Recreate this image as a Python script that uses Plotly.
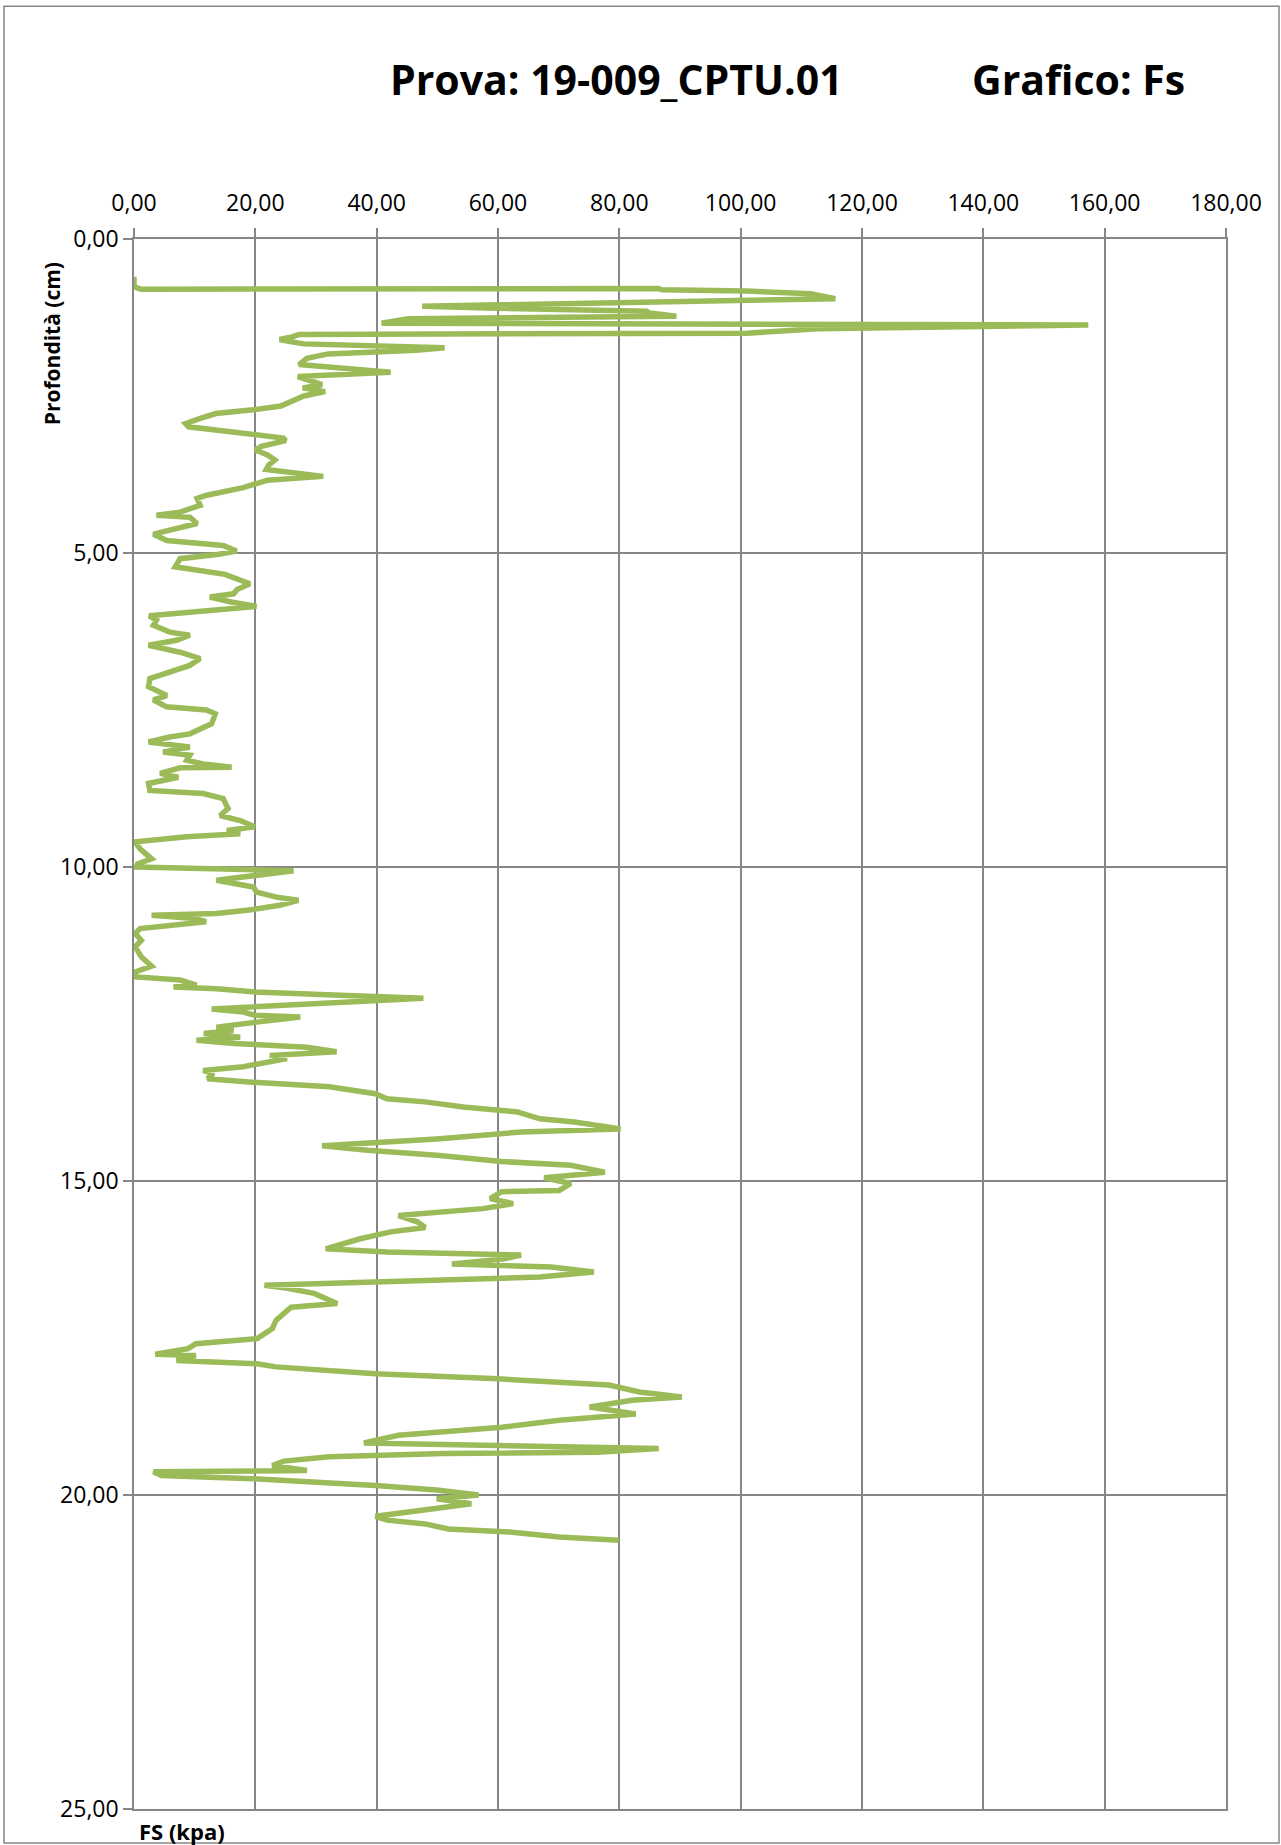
import plotly.graph_objects as go

# CPTU sounding 19-009_CPTU.01 - sleeve friction Fs versus depth
depth = [
    0.60, 0.74, 0.78, 0.80, 0.79, 0.81, 0.83, 0.87, 0.95, 1.07, 1.10, 1.15, 1.18, 1.23, 1.27, 1.34,
    1.37, 1.43, 1.50, 1.52, 1.56, 1.60, 1.63, 1.67, 1.73, 1.77, 1.83, 1.90, 2.00, 2.05, 2.12, 2.19,
    2.26, 2.32, 2.37, 2.43, 2.50, 2.60, 2.66, 2.72, 2.78, 2.86, 2.94, 2.99, 3.17, 3.21, 3.30, 3.36,
    3.44, 3.52, 3.60, 3.67, 3.78, 3.84, 3.91, 3.96, 4.08, 4.13, 4.24, 4.35, 4.40, 4.43, 4.53, 4.60,
    4.70, 4.80, 4.88, 4.97, 5.02, 5.09, 5.22, 5.34, 5.49, 5.58, 5.65, 5.70, 5.78, 5.85, 6.00, 6.07,
    6.15, 6.26, 6.31, 6.39, 6.47, 6.58, 6.68, 6.79, 6.89, 7.00, 7.13, 7.27, 7.34, 7.45, 7.50, 7.56,
    7.72, 7.80, 7.88, 7.93, 8.01, 8.09, 8.17, 8.22, 8.30, 8.36, 8.41, 8.42, 8.51, 8.57, 8.67, 8.78,
    8.83, 8.91, 8.96, 9.07, 9.18, 9.26, 9.36, 9.42, 9.47, 9.52, 9.60, 9.71, 9.87, 9.95, 10.00, 10.06,
    10.21, 10.32, 10.40, 10.48, 10.53, 10.61, 10.69, 10.74, 10.77, 10.82, 10.87, 10.98, 11.06, 11.17,
    11.27, 11.43, 11.58, 11.67, 11.75, 11.80, 11.88, 11.91, 11.94, 11.99, 12.04, 12.09, 12.26, 12.31,
    12.36, 12.39, 12.47, 12.55, 12.60, 12.65, 12.71, 12.76, 12.81, 12.87, 12.94, 13.00, 13.05, 13.18,
    13.24, 13.29, 13.37, 13.42, 13.50, 13.61, 13.69, 13.74, 13.82, 13.90, 14.01, 14.06, 14.17, 14.22,
    14.33, 14.44, 14.51, 14.59, 14.69, 14.75, 14.86, 14.95, 15.04, 15.15, 15.17, 15.28, 15.36, 15.44,
    15.55, 15.65, 15.74, 15.81, 15.92, 16.02, 16.08, 16.13, 16.18, 16.24, 16.32, 16.37, 16.45, 16.53,
    16.61, 16.66, 16.71, 16.79, 16.87, 16.95, 17.01, 17.11, 17.22, 17.35, 17.51, 17.59, 17.67, 17.76,
    17.78, 17.86, 17.91, 17.96, 18.07, 18.15, 18.25, 18.36, 18.44, 18.49, 18.60, 18.71, 18.81, 18.92,
    19.00, 19.05, 19.17, 19.20, 19.26, 19.32, 19.34, 19.39, 19.46, 19.53, 19.61, 19.63, 19.69, 19.74,
    19.79, 19.85, 19.92, 19.97, 20.00, 20.06, 20.10, 20.14, 20.21, 20.34, 20.40, 20.46, 20.54, 20.59,
    20.67, 20.72,
]
fs = [
    0.0, 0.0, 0.5, 1.2, 86.4, 87.0, 101.0, 111.5, 115.6, 47.5, 58.0, 84.5, 85.0, 89.4, 45.2, 40.8,
    157.3, 112.7, 101.0, 27.2, 26.0, 24.0, 25.5, 28.0, 51.2, 46.5, 32.0, 28.5, 27.2, 34.0, 42.3, 27.0,
    29.5, 31.0, 27.8, 31.5, 28.0, 25.5, 24.2, 19.6, 13.5, 10.8, 8.5, 9.0, 24.6, 25.0, 21.0, 20.0,
    22.0, 23.2, 22.2, 21.8, 31.2, 22.0, 19.9, 18.0, 12.0, 10.4, 10.9, 7.6, 3.7, 9.2, 10.4, 7.6,
    3.2, 5.4, 14.7, 16.9, 14.0, 7.6, 6.8, 15.0, 19.1, 17.0, 16.4, 12.5, 16.0, 20.2, 2.5, 3.7,
    3.2, 5.9, 9.2, 7.0, 2.4, 7.6, 10.9, 9.2, 5.9, 2.6, 2.4, 5.4, 3.2, 5.4, 11.9, 13.4,
    12.8, 10.9, 9.2, 5.9, 2.4, 9.2, 4.8, 9.2, 8.7, 11.4, 16.1, 7.6, 4.3, 7.3, 2.4, 2.6,
    11.4, 14.7, 15.0, 15.5, 14.2, 17.5, 19.9, 15.3, 17.5, 8.7, 0.2, 1.0, 2.9, 0.6, 0.4, 26.3,
    13.6, 19.7, 20.2, 23.5, 27.1, 24.0, 18.6, 13.6, 2.9, 10.0, 11.9, 1.0, 0.2, 1.2,
    0.2, 1.2, 2.9, 0.2, 0.4, 7.6, 10.3, 6.5, 13.6, 20.0, 32.9, 47.7, 12.8, 18.0,
    19.9, 27.4, 20.2, 13.6, 16.4, 11.5, 17.5, 10.3, 16.5, 28.5, 33.4, 22.4, 25.2, 18.0,
    11.4, 13.1, 12.1, 18.4, 32.2, 39.8, 41.7, 48.0, 54.3, 63.2, 66.9, 72.6, 80.2, 63.8,
    49.9, 31.0, 38.5, 49.9, 60.6, 72.0, 77.6, 67.6, 72.0, 70.1, 60.6, 58.7, 62.5, 57.5,
    43.6, 46.7, 48.0, 42.3, 37.3, 34.1, 31.6, 41.7, 63.8, 61.0, 52.4, 68.8, 75.8, 66.9,
    38.5, 21.5, 25.3, 29.7, 31.6, 33.5, 25.9, 24.7, 23.4, 22.8, 20.3, 10.2, 8.9, 3.5,
    10.2, 7.0, 20.3, 23.4, 39.8, 60.0, 78.3, 83.3, 90.3, 82.1, 75.1, 82.7, 70.1, 60.6,
    51.2, 43.6, 37.9, 57.5, 86.5, 76.4, 51.2, 32.2, 24.7, 22.8, 28.5, 3.2, 4.5, 19.6,
    31.0, 39.8, 49.9, 54.9, 56.8, 49.9, 53.1, 55.6, 50.0, 39.8, 41.7, 48.0, 51.8, 61.9,
    70.1, 79.9,
]

x_ticks = [0, 20, 40, 60, 80, 100, 120, 140, 160, 180]
y_ticks = [0, 5, 10, 15, 20, 25]

GRID = "#868686"
GREEN = "#9BBB59"

fig = go.Figure()
fig.add_trace(go.Scatter(
    x=fs, y=depth, mode="lines",
    line=dict(color=GREEN, width=5.5),
    hoverinfo="skip", showlegend=False,
))

axis_font = dict(family="Open Sans", size=23, color="black")

fig.update_layout(
    width=1281, height=1845,
    margin=dict(l=134, r=55, t=239, b=36),
    paper_bgcolor="white", plot_bgcolor="white",
    separators=",.",
    showlegend=False,
    xaxis=dict(
        side="top", range=[0, 180], tickvals=x_ticks, tickformat=".2f",
        showgrid=True, gridcolor=GRID, gridwidth=1.5,
        showline=True, mirror=True, linecolor=GRID, linewidth=1.5,
        ticks="outside", ticklen=9, tickcolor=GRID, tickwidth=1.5,
        ticklabelstandoff=8,
        zeroline=False, tickfont=axis_font,
    ),
    yaxis=dict(
        range=[25, 0], tickvals=y_ticks, tickformat=".2f",
        showgrid=True, gridcolor=GRID, gridwidth=1.5,
        showline=True, mirror=True, linecolor=GRID, linewidth=1.5,
        ticks="outside", ticklen=9, tickcolor=GRID, tickwidth=1.5,
        zeroline=False, tickfont=axis_font,
    ),
)

# chart frame
fig.add_shape(type="rect", xref="paper", yref="paper",
              x0=(4 - 134) / 1092, x1=(1279 - 134) / 1092,
              y0=1 - (1843 - 238.7) / 1570.3, y1=1 + (238.7 - 6) / 1570.3,
              line=dict(color=GRID, width=1.5), layer="below")

title_font = dict(family="Open Sans", size=41, color="black", weight="bold")
fig.add_annotation(text="Prova: 19-009_CPTU.01", xref="paper", yref="paper",
                   x=(388 - 134) / 1092, y=1 + (238.7 - 79) / 1570.3,
                   xanchor="left", yanchor="middle", showarrow=False, font=title_font)
fig.add_annotation(text="Grafico: Fs", xref="paper", yref="paper",
                   x=(970 - 134) / 1092, y=1 + (238.7 - 79) / 1570.3,
                   xanchor="left", yanchor="middle", showarrow=False, font=title_font)

label_font = dict(family="Open Sans", size=21, color="black", weight="bold")
fig.add_annotation(text="Profondità (cm)", xref="paper", yref="paper",
                   x=(52 - 134) / 1092, y=1 - (344 - 238.7) / 1570.3,
                   xanchor="center", yanchor="middle", textangle=-90,
                   showarrow=False, font=label_font)
fig.add_annotation(text="FS (kpa)", xref="paper", yref="paper",
                   x=(137 - 134) / 1092, y=1 - (1831 - 238.7) / 1570.3,
                   xanchor="left", yanchor="middle",
                   showarrow=False, font=dict(family="Open Sans", size=22, color="black", weight="bold"))

fig.write_html("out.html")
